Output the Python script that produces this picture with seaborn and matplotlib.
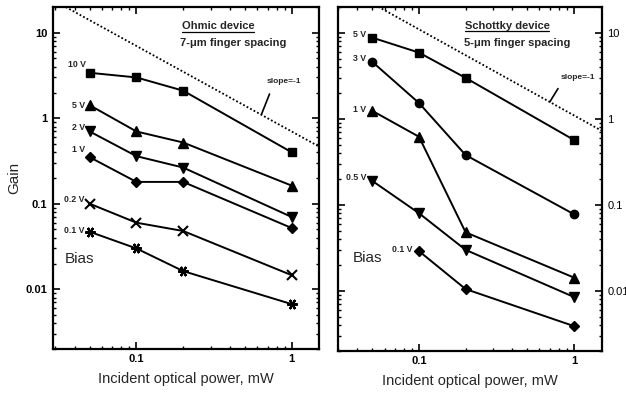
import numpy as np
import pandas as pd
import matplotlib
matplotlib.use("Agg")
import matplotlib.pyplot as plt
import seaborn as sns
from matplotlib.ticker import FixedLocator, FixedFormatter, LogLocator, NullFormatter
from matplotlib.lines import Line2D

# ---------------- data ----------------
power = [0.05, 0.1, 0.2, 1.0]

ohmic_labels = ["10 V", "5 V", "2 V", "1 V", "0.2 V", "0.1 V"]
ohmic_10v = [3.4, 3.0, 2.1, 0.40]
ohmic_5v = [1.42, 0.70, 0.52, 0.163]
ohmic_2v = [0.70, 0.36, 0.265, 0.070]
ohmic_1v = [0.35, 0.18, 0.18, 0.052]
ohmic_02v = [0.10, 0.060, 0.048, 0.0146]
ohmic_01v = [0.047, 0.030, 0.0163, 0.0067]

schottky_labels = ["5 V", "3 V", "1 V", "0.5 V", "0.1 V"]
schottky_5v = [8.8, 5.9, 3.0, 0.57]
schottky_3v = [4.6, 1.53, 0.38, 0.078]
schottky_1v = [1.24, 0.62, 0.048, 0.0143]
schottky_05v = [0.19, 0.080, 0.030, 0.0085]
power_01v = [0.1, 0.2, 1.0]
schottky_01v = [0.029, 0.0105, 0.0039]

slope_coef_ohmic = 0.7      # gain at 1 mW of the slope=-1 reference line
slope_coef_schottky = 1.1
slope_power = [0.03, 1.5]

y_ticks = [0.01, 0.1, 1, 10]
y_ticklabels = ["0.01", "0.1", "1", "10"]
x_ticks = [0.1, 1]
x_ticklabels = ["0.1", "1"]

# ---------------- style ----------------
sns.set_style("ticks")
plt.rcParams["font.family"] = ["Liberation Sans", "DejaVu Sans"]

fig = plt.figure(figsize=(6.26, 3.93), dpi=100)
axL = fig.add_axes([53 / 626, 44 / 393, 266 / 626, 342 / 393])
axR = fig.add_axes([338 / 626, 42 / 393, 264 / 626, 344 / 393])

def draw_series(ax, x, y, marker, ms=5.5, mew=1.0):
    sns.lineplot(x=x, y=y, ax=ax, color="black", linewidth=1.4, marker=marker,
                 markersize=ms, markeredgecolor="black", markerfacecolor="black",
                 markeredgewidth=mew, estimator=None, sort=False, legend=False)

asterisk = (6, 2, 90)

# Left: Ohmic
draw_series(axL, power, ohmic_10v, "s", ms=6)
draw_series(axL, power, ohmic_5v, "^", ms=6.5)
draw_series(axL, power, ohmic_2v, "v", ms=6.5)
draw_series(axL, power, ohmic_1v, "D", ms=4.8)
draw_series(axL, power, ohmic_02v, "x", ms=6.5, mew=1.5)
draw_series(axL, power, ohmic_01v, asterisk, ms=7.5, mew=1.6)

# Right: Schottky
draw_series(axR, power, schottky_5v, "s", ms=6)
draw_series(axR, power, schottky_3v, "o", ms=6)
draw_series(axR, power, schottky_1v, "^", ms=6.5)
draw_series(axR, power, schottky_05v, "v", ms=6.5)
draw_series(axR, power_01v, schottky_01v, "D", ms=4.8)

# slope = -1 reference lines
for ax, c in ((axL, slope_coef_ohmic), (axR, slope_coef_schottky)):
    px = np.array(slope_power)
    sns.lineplot(x=px, y=c / px, ax=ax, color="black", linewidth=1.3,
                 linestyle=(0, (1, 1.2)), estimator=None, legend=False)

# axes formatting
for ax in (axL, axR):
    ax.set_xscale("log")
    ax.set_yscale("log")
    ax.set_ylim(0.002, 20)
    ax.xaxis.set_major_locator(FixedLocator(x_ticks))
    ax.xaxis.set_major_formatter(FixedFormatter(x_ticklabels))
    ax.yaxis.set_major_locator(FixedLocator(y_ticks))
    ax.yaxis.set_major_formatter(FixedFormatter(y_ticklabels))
    ax.xaxis.set_minor_locator(LogLocator(base=10, subs=np.arange(2, 10)))
    ax.yaxis.set_minor_locator(LogLocator(base=10, subs=np.arange(2, 10)))
    ax.xaxis.set_minor_formatter(NullFormatter())
    ax.yaxis.set_minor_formatter(NullFormatter())
    for s in ax.spines.values():
        s.set_visible(True)
        s.set_linewidth(1.6)
        s.set_color("black")
    ax.tick_params(which="major", direction="in", length=5, width=1.2,
                   top=True, bottom=True, left=True, right=True, colors="black",
                   labelsize=8)
    ax.tick_params(which="minor", direction="in", length=2.5, width=1.0,
                   top=True, bottom=True, left=True, right=True, colors="black")
    for lab in ax.get_xticklabels() + ax.get_yticklabels():
        lab.set_fontweight("bold")
    ax.set_xlabel("Incident optical power, mW", fontsize=10.5, labelpad=6)
    ax.grid(False)

axL.set_xlim(0.029, 1.5)
axR.set_xlim(0.030, 1.52)

axL.tick_params(axis="y", labelleft=True, labelright=False, pad=4)
axR.tick_params(axis="y", labelleft=False, labelright=True, pad=4)
axL.set_ylabel("Gain", fontsize=11)
axL.yaxis.set_label_coords(-0.12, 0.5)
axR.set_ylabel("")

# series labels
lab_kw = dict(fontsize=6.3, fontweight="bold", ha="left", va="center")
left_label_pos = [(0.0364, 4.3), (0.0386, 1.42), (0.0386, 0.78), (0.0386, 0.43),
                  (0.0343, 0.111), (0.0343, 0.048)]
for (x, y), t in zip(left_label_pos, ohmic_labels):
    axL.text(x, y, t, **lab_kw)
right_label_pos = [(0.0375, 9.7), (0.0375, 5.0), (0.0375, 1.27), (0.0338, 0.21),
                   (0.067, 0.030)]
for (x, y), t in zip(right_label_pos, schottky_labels):
    axR.text(x, y, t, **lab_kw)

axL.text(0.0343, 0.0226, "Bias", fontsize=11, ha="left", va="center")
axR.text(0.0375, 0.024, "Bias", fontsize=11, ha="left", va="center")

# slope labels + pointers
arrow_kw = dict(arrowstyle="-", lw=1.2, color="black", shrinkA=0, shrinkB=0)
axL.text(0.89, 2.72, "slope=-1", fontsize=6, fontweight="bold", ha="center", va="center")
axL.annotate("", xy=(0.64, 1.12), xytext=(0.72, 1.92), arrowprops=arrow_kw)
axR.text(1.06, 3.0, "slope=-1", fontsize=6, fontweight="bold", ha="center", va="center")
axR.annotate("", xy=(0.70, 1.58), xytext=(0.79, 2.25), arrowprops=arrow_kw)

# titles
tL = axL.text(0.62, 0.944, "Ohmic device", transform=axL.transAxes, fontsize=8,
              fontweight="bold", ha="center", va="center")
axL.text(0.677, 0.895, "7-\u03bcm finger spacing", transform=axL.transAxes,
         fontsize=8, fontweight="bold", ha="center", va="center")
tR = axR.text(0.64, 0.945, "Schottky device", transform=axR.transAxes, fontsize=8,
              fontweight="bold", ha="center", va="center")
axR.text(0.678, 0.895, "5-\u03bcm finger spacing", transform=axR.transAxes,
         fontsize=8, fontweight="bold", ha="center", va="center")

# underline titles
fig.canvas.draw()
inv = fig.transFigure.inverted()
for t in (tL, tR):
    bb = t.get_window_extent()
    (x0, y0) = inv.transform((bb.x0, bb.y0 - 0.5))
    (x1, _) = inv.transform((bb.x1, bb.y0 - 0.5))
    fig.add_artist(Line2D([x0, x1], [y0, y0], transform=fig.transFigure,
                          color="black", linewidth=0.9))

fig.savefig("out.png", dpi=100)
